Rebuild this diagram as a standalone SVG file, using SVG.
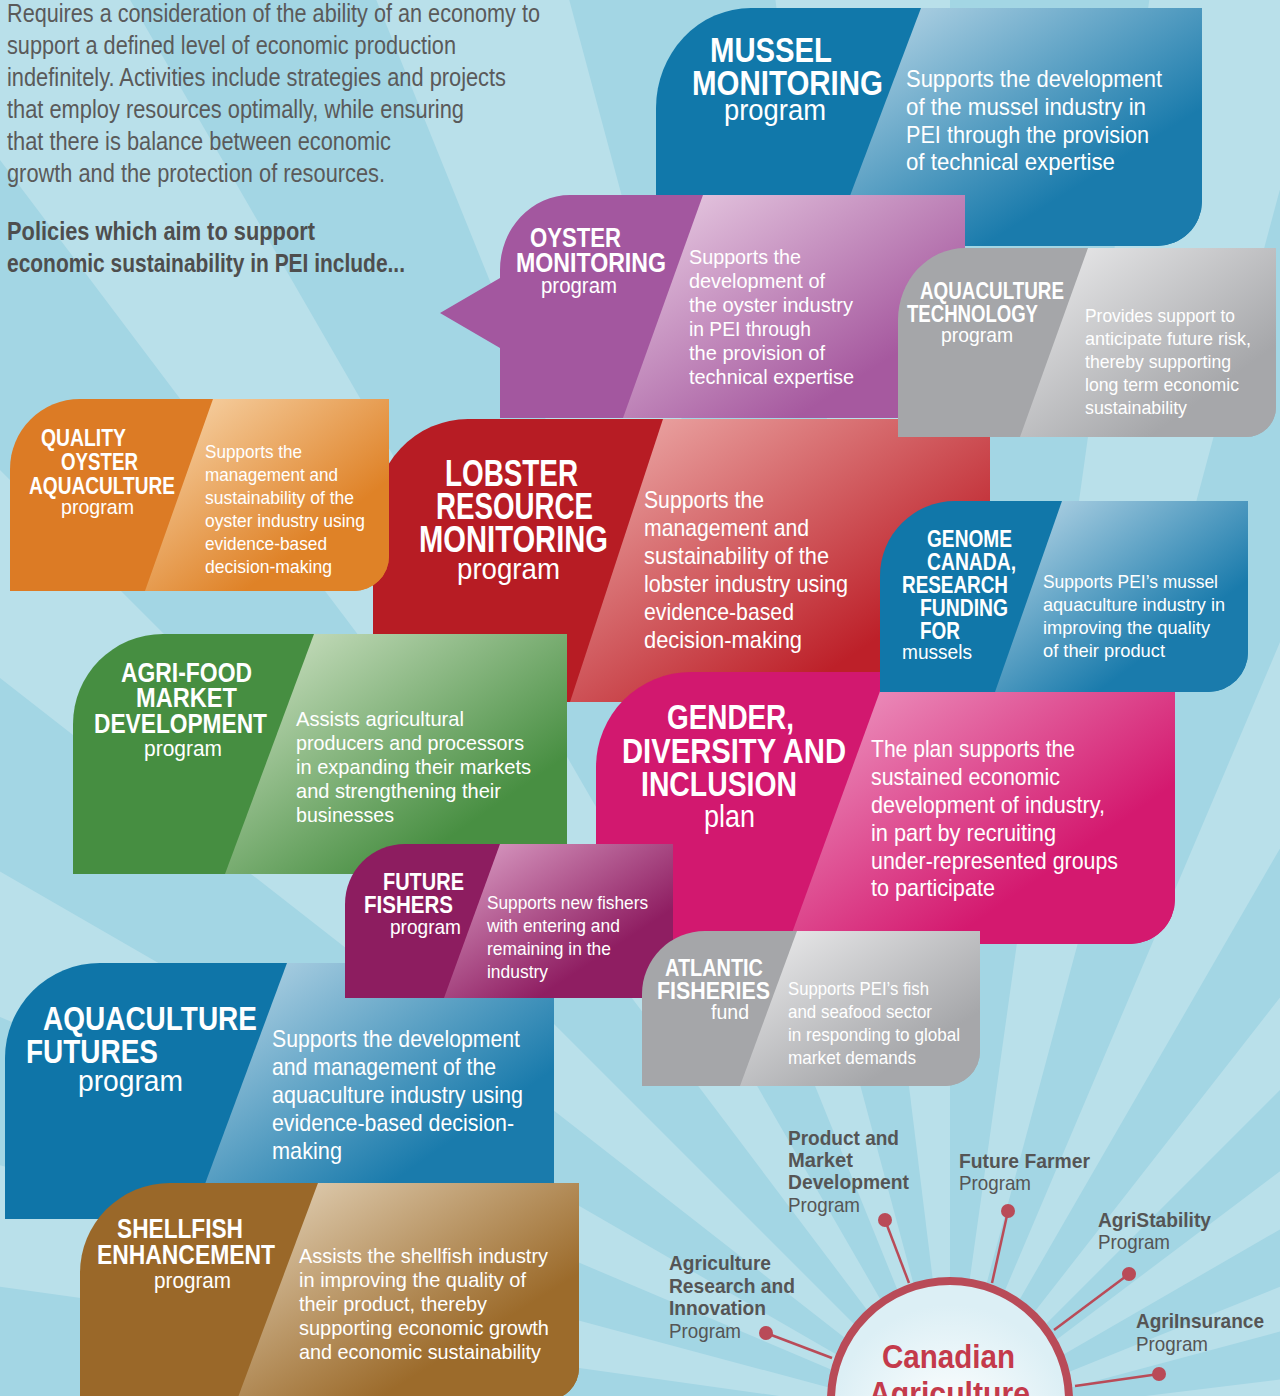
<svg xmlns="http://www.w3.org/2000/svg" width="1280" height="1396" viewBox="0 0 1280 1396">
<style>
text{font-family:"Liberation Sans Narrow","Liberation Sans",Arial,sans-serif}
.t{font-weight:bold;fill:#fff}
.p{fill:#fff}
.d{fill:#fff}
.intro{fill:#5a5a5a;font-size:26px}
.pol{fill:#4e4e4e;font-size:26px;font-weight:bold}
.lb{fill:#555;font-size:21px;font-weight:bold}
.lp{fill:#555;font-size:21px}
.ray{fill:#fff;opacity:0.24}
.con{stroke:#b94b58;stroke-width:2.5;fill:none}
.dot{fill:#b94b58}
</style>
<defs>
<linearGradient id="gBlue" x1="0" y1="0" x2="1" y2="1"><stop offset="0" stop-color="#c2dcea"/><stop offset="0.7" stop-color="#1a7bac"/></linearGradient>
<linearGradient id="gPurple" x1="0" y1="0" x2="1" y2="1"><stop offset="0" stop-color="#ebd2e6"/><stop offset="0.75" stop-color="#a6599f"/></linearGradient>
<linearGradient id="gGray" x1="0" y1="0" x2="1" y2="1"><stop offset="0" stop-color="#eeeeef"/><stop offset="0.75" stop-color="#a6a7aa"/></linearGradient>
<linearGradient id="gOrange" x1="0" y1="0" x2="1" y2="1"><stop offset="0" stop-color="#f9dbb4"/><stop offset="0.7" stop-color="#df8227"/></linearGradient>
<linearGradient id="gRed" x1="0" y1="0" x2="1" y2="1"><stop offset="0" stop-color="#efb3b0"/><stop offset="0.75" stop-color="#bd2029"/></linearGradient>
<linearGradient id="gMagenta" x1="0" y1="0" x2="1" y2="1"><stop offset="0" stop-color="#f0a6cb"/><stop offset="0.7" stop-color="#d4196f"/></linearGradient>
<linearGradient id="gGreen" x1="0" y1="0" x2="1" y2="1"><stop offset="0" stop-color="#d6e6cc"/><stop offset="0.75" stop-color="#488f42"/></linearGradient>
<linearGradient id="gPlum" x1="0" y1="0" x2="1" y2="1"><stop offset="0" stop-color="#dfa6cb"/><stop offset="0.7" stop-color="#8f1e62"/></linearGradient>
<linearGradient id="gBrown" x1="0" y1="0" x2="1" y2="1"><stop offset="0" stop-color="#e6d7bf"/><stop offset="0.7" stop-color="#9c6b2b"/></linearGradient>
<radialGradient id="gCircle" cx="0.5" cy="0.6" r="0.5"><stop offset="0" stop-color="#ffffff"/><stop offset="1" stop-color="#dceff5"/></radialGradient>
<path id="s-mussel" d="M656,246 L656,108 A95,100 0 0 1 751,8 L1202,8 L1202,201 A45,45 0 0 1 1157,246 Z"/>
<path id="s-oyster" d="M500,418 L500,348 L440,313 L500,278 L500,270 A70,75 0 0 1 570,195 L965,195 L965,418 Z"/>
<path id="s-lobster" d="M373,702 L373,519 A95,100 0 0 1 468,419 L990,419 L990,702 Z"/>
<path id="s-aquatech" d="M898,437 L898,320 A67,72 0 0 1 965,248 L1276,248 L1276,407 A30,30 0 0 1 1246,437 Z"/>
<path id="s-quality" d="M10,591 L10,469 A70,70 0 0 1 80,399 L389,399 L389,556 A35,35 0 0 1 354,591 Z"/>
<path id="s-genome" d="M880,692 L880,576 A75,75 0 0 1 955,501 L1248,501 L1248,652 A40,40 0 0 1 1208,692 Z"/>
<path id="s-gender" d="M596,944 L596,767 A95,95 0 0 1 691,672 L1175,672 L1175,899 A45,45 0 0 1 1130,944 Z"/>
<path id="s-agri" d="M73,874 L73,724 A90,90 0 0 1 163,634 L567,634 L567,874 Z"/>
<path id="s-aquafut" d="M5,1219 L5,1058 A95,95 0 0 1 100,963 L554,963 L554,1219 Z"/>
<path id="s-ff" d="M345,998 L345,904 A60,60 0 0 1 405,844 L673,844 L673,998 Z"/>
<path id="s-atlantic" d="M642,1086 L642,994 A63,63 0 0 1 705,931 L980,931 L980,1051 A35,35 0 0 1 945,1086 Z"/>
<path id="s-shell" d="M80,1400 L80,1273 A90,90 0 0 1 170,1183 L579,1183 L579,1368 A32,32 0 0 1 547,1400 Z"/>
<clipPath id="c-mussel"><use href="#s-mussel"/></clipPath>
<clipPath id="c-oyster"><use href="#s-oyster"/></clipPath>
<clipPath id="c-lobster"><use href="#s-lobster"/></clipPath>
<clipPath id="c-aquatech"><use href="#s-aquatech"/></clipPath>
<clipPath id="c-quality"><use href="#s-quality"/></clipPath>
<clipPath id="c-genome"><use href="#s-genome"/></clipPath>
<clipPath id="c-gender"><use href="#s-gender"/></clipPath>
<clipPath id="c-agri"><use href="#s-agri"/></clipPath>
<clipPath id="c-aquafut"><use href="#s-aquafut"/></clipPath>
<clipPath id="c-ff"><use href="#s-ff"/></clipPath>
<clipPath id="c-atlantic"><use href="#s-atlantic"/></clipPath>
<clipPath id="c-shell"><use href="#s-shell"/></clipPath>
</defs>

<g id="background">
<rect x="0" y="0" width="1280" height="1396" fill="#a3d6e4"/>
<polygon class="ray" points="950,1420 2950,1420 2935,1176"/>
<polygon class="ray" points="950,1420 2882,902 2804,671"/>
<polygon class="ray" points="950,1420 2682,420 2547,216"/>
<polygon class="ray" points="950,1420 2364,6 2181,-156"/>
<polygon class="ray" points="950,1420 1950,-312 1731,-421"/>
<polygon class="ray" points="950,1420 1468,-512 1228,-561"/>
<polygon class="ray" points="950,1420 950,-580 706,-565"/>
<polygon class="ray" points="950,1420 432,-512 201,-434"/>
<polygon class="ray" points="950,1420 -50,-312 -254,-177"/>
<polygon class="ray" points="950,1420 -464,6 -626,189"/>
<polygon class="ray" points="950,1420 -782,420 -891,639"/>
<polygon class="ray" points="950,1420 -982,902 -1031,1142"/>
</g>

<g id="intro">
<text class="intro" x="7" y="22" textLength="533" lengthAdjust="spacingAndGlyphs">Requires a consideration of the ability of an economy to</text>
<text class="intro" x="7" y="54" textLength="449" lengthAdjust="spacingAndGlyphs">support a defined level of economic production</text>
<text class="intro" x="7" y="86" textLength="499" lengthAdjust="spacingAndGlyphs">indefinitely. Activities include strategies and projects</text>
<text class="intro" x="7" y="118" textLength="457" lengthAdjust="spacingAndGlyphs">that employ resources optimally, while ensuring</text>
<text class="intro" x="7" y="150" textLength="384" lengthAdjust="spacingAndGlyphs">that there is balance between economic</text>
<text class="intro" x="7" y="182" textLength="378" lengthAdjust="spacingAndGlyphs">growth and the protection of resources.</text>
<text class="pol" x="7" y="240" textLength="308" lengthAdjust="spacingAndGlyphs">Policies which aim to support</text>
<text class="pol" x="7" y="272" textLength="398" lengthAdjust="spacingAndGlyphs">economic sustainability in PEI include...</text>
</g>

<g id="mussel-monitoring">
<use href="#s-mussel" fill="#1178aa"/>
<polygon points="921,8 1210,8 1210,246 831,246" fill="url(#gBlue)" clip-path="url(#c-mussel)"/>
<text class="t" font-size="35" x="710" y="62" textLength="122" lengthAdjust="spacingAndGlyphs">MUSSEL</text>
<text class="t" font-size="35" x="692" y="95" textLength="191" lengthAdjust="spacingAndGlyphs">MONITORING</text>
<text class="p" font-size="29" x="724" y="120" textLength="102" lengthAdjust="spacingAndGlyphs">program</text>
<text class="d" font-size="24" x="906" y="87" textLength="256" lengthAdjust="spacingAndGlyphs">Supports the development</text>
<text class="d" font-size="24" x="906" y="115" textLength="240" lengthAdjust="spacingAndGlyphs">of the mussel industry in</text>
<text class="d" font-size="24" x="906" y="143" textLength="243" lengthAdjust="spacingAndGlyphs">PEI through the provision</text>
<text class="d" font-size="24" x="906" y="170" textLength="209" lengthAdjust="spacingAndGlyphs">of technical expertise</text>
</g>

<g id="oyster-monitoring">
<use href="#s-oyster" fill="#a3579f"/>
<polygon points="703,195 970,195 970,418 623,418" fill="url(#gPurple)" clip-path="url(#c-oyster)"/>
<text class="t" font-size="27" x="530" y="247" textLength="91" lengthAdjust="spacingAndGlyphs">OYSTER</text>
<text class="t" font-size="27" x="516" y="272" textLength="150" lengthAdjust="spacingAndGlyphs">MONITORING</text>
<text class="p" font-size="22" x="541" y="293" textLength="76" lengthAdjust="spacingAndGlyphs">program</text>
<text class="d" font-size="21" x="689" y="264" textLength="112" lengthAdjust="spacingAndGlyphs">Supports the</text>
<text class="d" font-size="21" x="689" y="288" textLength="136" lengthAdjust="spacingAndGlyphs">development of</text>
<text class="d" font-size="21" x="689" y="312" textLength="164" lengthAdjust="spacingAndGlyphs">the oyster industry</text>
<text class="d" font-size="21" x="689" y="336" textLength="122" lengthAdjust="spacingAndGlyphs">in PEI through</text>
<text class="d" font-size="21" x="689" y="360" textLength="136" lengthAdjust="spacingAndGlyphs">the provision of</text>
<text class="d" font-size="21" x="689" y="384" textLength="165" lengthAdjust="spacingAndGlyphs">technical expertise</text>
</g>

<g id="lobster-resource-monitoring">
<use href="#s-lobster" fill="#b71c24"/>
<polygon points="663,419 995,419 995,702 570,702" fill="url(#gRed)" clip-path="url(#c-lobster)"/>
<text class="t" font-size="36" x="445" y="486" textLength="133" lengthAdjust="spacingAndGlyphs">LOBSTER</text>
<text class="t" font-size="36" x="436" y="519" textLength="157" lengthAdjust="spacingAndGlyphs">RESOURCE</text>
<text class="t" font-size="36" x="419" y="552" textLength="189" lengthAdjust="spacingAndGlyphs">MONITORING</text>
<text class="p" font-size="30" x="457" y="579" textLength="103" lengthAdjust="spacingAndGlyphs">program</text>
<text class="d" font-size="24" x="644" y="508" textLength="120" lengthAdjust="spacingAndGlyphs">Supports the</text>
<text class="d" font-size="24" x="644" y="536" textLength="165" lengthAdjust="spacingAndGlyphs">management and</text>
<text class="d" font-size="24" x="644" y="564" textLength="185" lengthAdjust="spacingAndGlyphs">sustainability of the</text>
<text class="d" font-size="24" x="644" y="592" textLength="204" lengthAdjust="spacingAndGlyphs">lobster industry using</text>
<text class="d" font-size="24" x="644" y="620" textLength="150" lengthAdjust="spacingAndGlyphs">evidence-based</text>
<text class="d" font-size="24" x="644" y="648" textLength="158" lengthAdjust="spacingAndGlyphs">decision-making</text>
</g>

<g id="aquaculture-technology">
<use href="#s-aquatech" fill="#a5a6a9"/>
<polygon points="1088,248 1280,248 1280,437 1020,437" fill="url(#gGray)" clip-path="url(#c-aquatech)"/>
<text class="t" font-size="23" x="920" y="299" textLength="144" lengthAdjust="spacingAndGlyphs">AQUACULTURE</text>
<text class="t" font-size="23" x="907" y="322" textLength="131" lengthAdjust="spacingAndGlyphs">TECHNOLOGY</text>
<text class="p" font-size="21" x="941" y="342" textLength="72" lengthAdjust="spacingAndGlyphs">program</text>
<text class="d" font-size="19" x="1085" y="322" textLength="150" lengthAdjust="spacingAndGlyphs">Provides support to</text>
<text class="d" font-size="19" x="1085" y="345" textLength="166" lengthAdjust="spacingAndGlyphs">anticipate future risk,</text>
<text class="d" font-size="19" x="1085" y="368" textLength="146" lengthAdjust="spacingAndGlyphs">thereby supporting</text>
<text class="d" font-size="19" x="1085" y="391" textLength="154" lengthAdjust="spacingAndGlyphs">long term economic</text>
<text class="d" font-size="19" x="1085" y="414" textLength="102" lengthAdjust="spacingAndGlyphs">sustainability</text>
</g>

<g id="quality-oyster-aquaculture">
<use href="#s-quality" fill="#dc7b25"/>
<polygon points="213,399 395,399 395,591 145,591" fill="url(#gOrange)" clip-path="url(#c-quality)"/>
<text class="t" font-size="23" x="41" y="446" textLength="85" lengthAdjust="spacingAndGlyphs">QUALITY</text>
<text class="t" font-size="23" x="61" y="470" textLength="77" lengthAdjust="spacingAndGlyphs">OYSTER</text>
<text class="t" font-size="23" x="29" y="494" textLength="146" lengthAdjust="spacingAndGlyphs">AQUACULTURE</text>
<text class="p" font-size="21" x="61" y="514" textLength="73" lengthAdjust="spacingAndGlyphs">program</text>
<text class="d" font-size="19" x="205" y="458" textLength="97" lengthAdjust="spacingAndGlyphs">Supports the</text>
<text class="d" font-size="19" x="205" y="481" textLength="133" lengthAdjust="spacingAndGlyphs">management and</text>
<text class="d" font-size="19" x="205" y="504" textLength="149" lengthAdjust="spacingAndGlyphs">sustainability of the</text>
<text class="d" font-size="19" x="205" y="527" textLength="160" lengthAdjust="spacingAndGlyphs">oyster industry using</text>
<text class="d" font-size="19" x="205" y="550" textLength="122" lengthAdjust="spacingAndGlyphs">evidence-based</text>
<text class="d" font-size="19" x="205" y="573" textLength="127" lengthAdjust="spacingAndGlyphs">decision-making</text>
</g>

<g id="agri-food-market-development">
<use href="#s-agri" fill="#468e41"/>
<polygon points="314,634 570,634 570,874 225,874" fill="url(#gGreen)" clip-path="url(#c-agri)"/>
<text class="t" font-size="27" x="121" y="682" textLength="131" lengthAdjust="spacingAndGlyphs">AGRI-FOOD</text>
<text class="t" font-size="27" x="136" y="707" textLength="101" lengthAdjust="spacingAndGlyphs">MARKET</text>
<text class="t" font-size="27" x="94" y="733" textLength="173" lengthAdjust="spacingAndGlyphs">DEVELOPMENT</text>
<text class="p" font-size="22" x="144" y="756" textLength="78" lengthAdjust="spacingAndGlyphs">program</text>
<text class="d" font-size="21" x="296" y="726" textLength="168" lengthAdjust="spacingAndGlyphs">Assists agricultural</text>
<text class="d" font-size="21" x="296" y="750" textLength="228" lengthAdjust="spacingAndGlyphs">producers and processors</text>
<text class="d" font-size="21" x="296" y="774" textLength="235" lengthAdjust="spacingAndGlyphs">in expanding their markets</text>
<text class="d" font-size="21" x="296" y="798" textLength="205" lengthAdjust="spacingAndGlyphs">and strengthening their</text>
<text class="d" font-size="21" x="296" y="822" textLength="98" lengthAdjust="spacingAndGlyphs">businesses</text>
</g>

<g id="gender-diversity-inclusion">
<use href="#s-gender" fill="#d2186f"/>
<polygon points="887,672 1180,672 1180,944 788,944" fill="url(#gMagenta)" clip-path="url(#c-gender)"/>
<text class="t" font-size="35" x="667" y="729" textLength="127" lengthAdjust="spacingAndGlyphs">GENDER,</text>
<text class="t" font-size="35" x="622" y="763" textLength="224" lengthAdjust="spacingAndGlyphs">DIVERSITY AND</text>
<text class="t" font-size="35" x="641" y="796" textLength="156" lengthAdjust="spacingAndGlyphs">INCLUSION</text>
<text class="p" font-size="31" x="704" y="827" textLength="51" lengthAdjust="spacingAndGlyphs">plan</text>
<text class="d" font-size="24" x="871" y="757" textLength="204" lengthAdjust="spacingAndGlyphs">The plan supports the</text>
<text class="d" font-size="24" x="871" y="785" textLength="189" lengthAdjust="spacingAndGlyphs">sustained economic</text>
<text class="d" font-size="24" x="871" y="813" textLength="234" lengthAdjust="spacingAndGlyphs">development of industry,</text>
<text class="d" font-size="24" x="871" y="841" textLength="185" lengthAdjust="spacingAndGlyphs">in part by recruiting</text>
<text class="d" font-size="24" x="871" y="869" textLength="247" lengthAdjust="spacingAndGlyphs">under-represented groups</text>
<text class="d" font-size="24" x="871" y="896" textLength="124" lengthAdjust="spacingAndGlyphs">to participate</text>
</g>

<g id="genome-canada">
<use href="#s-genome" fill="#1177a9"/>
<polygon points="1062,501 1252,501 1252,692 995,692" fill="url(#gBlue)" clip-path="url(#c-genome)"/>
<text class="t" font-size="23" x="927" y="547" textLength="85" lengthAdjust="spacingAndGlyphs">GENOME</text>
<text class="t" font-size="23" x="927" y="570" textLength="89" lengthAdjust="spacingAndGlyphs">CANADA,</text>
<text class="t" font-size="23" x="902" y="593" textLength="106" lengthAdjust="spacingAndGlyphs">RESEARCH</text>
<text class="t" font-size="23" x="920" y="616" textLength="88" lengthAdjust="spacingAndGlyphs">FUNDING</text>
<text class="t" font-size="23" x="920" y="639" textLength="40" lengthAdjust="spacingAndGlyphs">FOR</text>
<text class="p" font-size="21" x="902" y="659" textLength="70" lengthAdjust="spacingAndGlyphs">mussels</text>
<text class="d" font-size="19" x="1043" y="588" textLength="175" lengthAdjust="spacingAndGlyphs">Supports PEI’s mussel</text>
<text class="d" font-size="19" x="1043" y="611" textLength="182" lengthAdjust="spacingAndGlyphs">aquaculture industry in</text>
<text class="d" font-size="19" x="1043" y="634" textLength="167" lengthAdjust="spacingAndGlyphs">improving the quality</text>
<text class="d" font-size="19" x="1043" y="657" textLength="122" lengthAdjust="spacingAndGlyphs">of their product</text>
</g>

<g id="aquaculture-futures">
<use href="#s-aquafut" fill="#0f75a8"/>
<polygon points="287,963 560,963 560,1219 192,1219" fill="url(#gBlue)" clip-path="url(#c-aquafut)"/>
<text class="t" font-size="33" x="43" y="1030" textLength="214" lengthAdjust="spacingAndGlyphs">AQUACULTURE</text>
<text class="t" font-size="33" x="26" y="1063" textLength="132" lengthAdjust="spacingAndGlyphs">FUTURES</text>
<text class="p" font-size="29" x="78" y="1091" textLength="105" lengthAdjust="spacingAndGlyphs">program</text>
<text class="d" font-size="24" x="272" y="1047" textLength="248" lengthAdjust="spacingAndGlyphs">Supports the development</text>
<text class="d" font-size="24" x="272" y="1075" textLength="224" lengthAdjust="spacingAndGlyphs">and management of the</text>
<text class="d" font-size="24" x="272" y="1103" textLength="251" lengthAdjust="spacingAndGlyphs">aquaculture industry using</text>
<text class="d" font-size="24" x="272" y="1131" textLength="242" lengthAdjust="spacingAndGlyphs">evidence-based decision-</text>
<text class="d" font-size="24" x="272" y="1159" textLength="70" lengthAdjust="spacingAndGlyphs">making</text>
</g>

<g id="future-fishers">
<use href="#s-ff" fill="#8d1d60"/>
<polygon points="500,844 678,844 678,998 444,998" fill="url(#gPlum)" clip-path="url(#c-ff)"/>
<text class="t" font-size="23" x="383" y="890" textLength="81" lengthAdjust="spacingAndGlyphs">FUTURE</text>
<text class="t" font-size="23" x="364" y="913" textLength="89" lengthAdjust="spacingAndGlyphs">FISHERS</text>
<text class="p" font-size="21" x="390" y="934" textLength="71" lengthAdjust="spacingAndGlyphs">program</text>
<text class="d" font-size="19" x="487" y="909" textLength="161" lengthAdjust="spacingAndGlyphs">Supports new fishers</text>
<text class="d" font-size="19" x="487" y="932" textLength="133" lengthAdjust="spacingAndGlyphs">with entering and</text>
<text class="d" font-size="19" x="487" y="955" textLength="124" lengthAdjust="spacingAndGlyphs">remaining in the</text>
<text class="d" font-size="19" x="487" y="978" textLength="61" lengthAdjust="spacingAndGlyphs">industry</text>
</g>

<g id="atlantic-fisheries">
<use href="#s-atlantic" fill="#a5a6a9"/>
<polygon points="797,931 985,931 985,1086 740,1086" fill="url(#gGray)" clip-path="url(#c-atlantic)"/>
<text class="t" font-size="23" x="665" y="976" textLength="98" lengthAdjust="spacingAndGlyphs">ATLANTIC</text>
<text class="t" font-size="23" x="657" y="999" textLength="113" lengthAdjust="spacingAndGlyphs">FISHERIES</text>
<text class="p" font-size="21" x="711" y="1019" textLength="38" lengthAdjust="spacingAndGlyphs">fund</text>
<text class="d" font-size="19" x="788" y="995" textLength="141" lengthAdjust="spacingAndGlyphs">Supports PEI’s fish</text>
<text class="d" font-size="19" x="788" y="1018" textLength="144" lengthAdjust="spacingAndGlyphs">and seafood sector</text>
<text class="d" font-size="19" x="788" y="1041" textLength="172" lengthAdjust="spacingAndGlyphs">in responding to global</text>
<text class="d" font-size="19" x="788" y="1064" textLength="128" lengthAdjust="spacingAndGlyphs">market demands</text>
</g>

<g id="shellfish-enhancement">
<use href="#s-shell" fill="#9a6829"/>
<polygon points="318,1183 585,1183 585,1400 237,1400" fill="url(#gBrown)" clip-path="url(#c-shell)"/>
<text class="t" font-size="27" x="117" y="1238" textLength="126" lengthAdjust="spacingAndGlyphs">SHELLFISH</text>
<text class="t" font-size="27" x="97" y="1264" textLength="178" lengthAdjust="spacingAndGlyphs">ENHANCEMENT</text>
<text class="p" font-size="22" x="154" y="1288" textLength="77" lengthAdjust="spacingAndGlyphs">program</text>
<text class="d" font-size="21" x="299" y="1263" textLength="249" lengthAdjust="spacingAndGlyphs">Assists the shellfish industry</text>
<text class="d" font-size="21" x="299" y="1287" textLength="227" lengthAdjust="spacingAndGlyphs">in improving the quality of</text>
<text class="d" font-size="21" x="299" y="1311" textLength="188" lengthAdjust="spacingAndGlyphs">their product, thereby</text>
<text class="d" font-size="21" x="299" y="1335" textLength="250" lengthAdjust="spacingAndGlyphs">supporting economic growth</text>
<text class="d" font-size="21" x="299" y="1359" textLength="242" lengthAdjust="spacingAndGlyphs">and economic sustainability</text>
</g>

<g id="connectors">
<line class="con" x1="766" y1="1333" x2="832" y2="1358"/>
<line class="con" x1="885" y1="1220" x2="909" y2="1283"/>
<line class="con" x1="1008" y1="1211" x2="992" y2="1283"/>
<line class="con" x1="1129" y1="1274" x2="1054" y2="1330"/>
<line class="con" x1="1159" y1="1374" x2="1075" y2="1386"/>
</g>

<g id="canadian-agriculture">
<circle cx="950" cy="1400" r="119" fill="url(#gCircle)" stroke="#b94b58" stroke-width="8"/>
<text font-size="34" font-weight="bold" fill="#c43a4b" x="882" y="1368" textLength="133" lengthAdjust="spacingAndGlyphs">Canadian</text>
<text font-size="34" font-weight="bold" fill="#c43a4b" x="869" y="1405" textLength="161" lengthAdjust="spacingAndGlyphs">Agriculture</text>
</g>

<g id="product-market-development">
<circle class="dot" cx="885" cy="1220" r="7"/>
<text class="lb" x="788" y="1145" textLength="111" lengthAdjust="spacingAndGlyphs">Product and</text>
<text class="lb" x="788" y="1167" textLength="65" lengthAdjust="spacingAndGlyphs">Market</text>
<text class="lb" x="788" y="1189" textLength="121" lengthAdjust="spacingAndGlyphs">Development</text>
<text class="lp" x="788" y="1212" textLength="72" lengthAdjust="spacingAndGlyphs">Program</text>
</g>
<g id="future-farmer">
<circle class="dot" cx="1008" cy="1211" r="7"/>
<text class="lb" x="959" y="1168" textLength="131" lengthAdjust="spacingAndGlyphs">Future Farmer</text>
<text class="lp" x="959" y="1190" textLength="72" lengthAdjust="spacingAndGlyphs">Program</text>
</g>
<g id="agristability">
<circle class="dot" cx="1129" cy="1274" r="7"/>
<text class="lb" x="1098" y="1227" textLength="113" lengthAdjust="spacingAndGlyphs">AgriStability</text>
<text class="lp" x="1098" y="1249" textLength="72" lengthAdjust="spacingAndGlyphs">Program</text>
</g>
<g id="agriculture-research-innovation">
<circle class="dot" cx="766" cy="1333" r="7"/>
<text class="lb" x="669" y="1270" textLength="102" lengthAdjust="spacingAndGlyphs">Agriculture</text>
<text class="lb" x="669" y="1293" textLength="126" lengthAdjust="spacingAndGlyphs">Research and</text>
<text class="lb" x="669" y="1315" textLength="97" lengthAdjust="spacingAndGlyphs">Innovation</text>
<text class="lp" x="669" y="1338" textLength="72" lengthAdjust="spacingAndGlyphs">Program</text>
</g>
<g id="agriinsurance">
<circle class="dot" cx="1159" cy="1374" r="7"/>
<text class="lb" x="1136" y="1328" textLength="128" lengthAdjust="spacingAndGlyphs">AgriInsurance</text>
<text class="lp" x="1136" y="1351" textLength="72" lengthAdjust="spacingAndGlyphs">Program</text>
</g>
</svg>
